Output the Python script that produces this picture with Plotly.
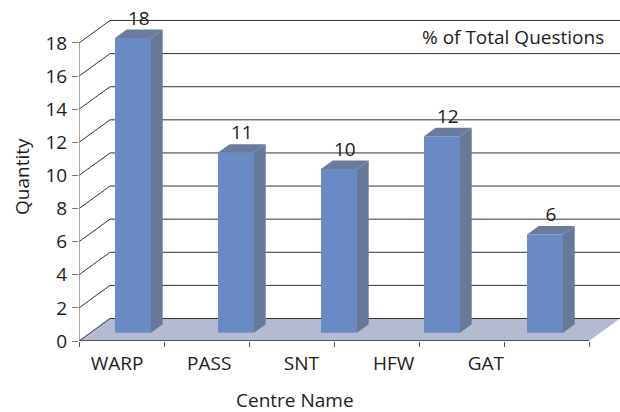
import plotly.graph_objects as go

# ---------------- data ----------------
categories = ["WARP", "PASS", "SNT", "HFW", "GAT"]
values = [18, 11, 10, 12, 6]
y_ticks = [0, 2, 4, 6, 8, 10, 12, 14, 16, 18]
series_name = "% of Total Questions"
x_title = "Centre Name"
y_title = "Quantity"

# ---------------- geometry (pixels of the 620x412 canvas) ----------------
W, H = 620, 412
PX_X0 = 133.0      # pixel of x = 0 (first bar front centre)
UX = 103.0         # px per category
PX_Y0 = 341.0      # pixel of y = 0 (front floor edge)
UY = 16.556        # px per value unit
LEFT_PX, RIGHT_PX, TOP_PX = 79.0, 620.0, 5.0
FRONT_RIGHT_PX = 589.0

x_min = (LEFT_PX - PX_X0) / UX
x_max = (RIGHT_PX - PX_X0) / UX
y_max = (PX_Y0 - TOP_PX) / UY
front_left = x_min
front_right = (FRONT_RIGHT_PX - PX_X0) / UX
DEPTH_X = 31.0 / UX
DEPTH_Y = 22.5 / UY

BAR_W = 36.0 / UX
SIDE_X = 11.7 / UX
SIDE_Y = 8.4 / UY
BAR_BASE = 0.505
PERSP = 0.989

FONT = "Open Sans"
FS = 19
TXT = "#1c1c1c"
FRONT_C = "#6a8ac6"
SIDE_C = "#687899"
TOP_C = "#6b7b9d"
FLOOR_C = "#b4bad0"
GRID_C = "#333333"

xs = list(range(len(categories)))
tops = [BAR_BASE + v * PERSP for v in values]

fig = go.Figure()

# front faces
fig.add_trace(go.Bar(x=xs, y=[v * PERSP for v in values], base=BAR_BASE, width=BAR_W,
                     marker=dict(color=FRONT_C, line=dict(width=0)),
                     name=series_name, showlegend=False, hoverinfo="skip"))

# side faces
sx, sy = [], []
for x, t in zip(xs, tops):
    r = x + BAR_W / 2
    sx += [r, r, r + SIDE_X, r + SIDE_X, r, None]
    sy += [BAR_BASE, t, t + SIDE_Y, BAR_BASE + SIDE_Y, BAR_BASE, None]
fig.add_trace(go.Scatter(x=sx, y=sy, mode="lines", fill="toself", fillcolor=SIDE_C,
                         line=dict(width=0, color=SIDE_C), showlegend=False, hoverinfo="skip"))

# top faces
tx, ty = [], []
for x, t in zip(xs, tops):
    l, r = x - BAR_W / 2, x + BAR_W / 2
    tx += [l, r, r + SIDE_X, l + SIDE_X, l, None]
    ty += [t, t, t + SIDE_Y, t + SIDE_Y, t, None]
fig.add_trace(go.Scatter(x=tx, y=ty, mode="lines", fill="toself", fillcolor=TOP_C,
                         line=dict(width=0, color=TOP_C), showlegend=False, hoverinfo="skip"))

# data labels
fig.add_trace(go.Scatter(x=[x + SIDE_X / 2 for x in xs], y=[t + SIDE_Y for t in tops],
                         mode="text", text=[str(v) for v in values], textposition="top center",
                         textfont=dict(family=FONT, size=FS, color=TXT),
                         showlegend=False, hoverinfo="skip"))

shapes = []
# floor
shapes.append(dict(type="path", xref="x", yref="y", layer="below", line=dict(width=0),
                   fillcolor=FLOOR_C,
                   path=f"M{front_left},0 L{front_right},0 L{front_right + DEPTH_X},{DEPTH_Y} "
                        f"L{front_left + DEPTH_X},{DEPTH_Y} Z"))
# back wall grid + side wall diagonals
for t in y_ticks:
    shapes.append(dict(type="line", xref="x", yref="y", layer="below",
                       x0=front_left + DEPTH_X, x1=x_max, y0=t + DEPTH_Y, y1=t + DEPTH_Y,
                       line=dict(color=GRID_C, width=1)))
    shapes.append(dict(type="line", xref="x", yref="y", layer="below",
                       x0=front_left, x1=front_left + DEPTH_X, y0=t, y1=t + DEPTH_Y,
                       line=dict(color=GRID_C, width=1)))
# axis lines
shapes.append(dict(type="line", xref="x", yref="y", x0=front_left, x1=front_right, y0=0, y1=0,
                   line=dict(color=GRID_C, width=1.3)))
shapes.append(dict(type="line", xref="x", yref="y", x0=front_left, x1=front_left, y0=0, y1=max(y_ticks),
                   line=dict(color="#7a7a7a", width=1.3)))

plot_w = RIGHT_PX - LEFT_PX
plot_h = PX_Y0 - TOP_PX


def px_to_paper(px, py):
    return (px - LEFT_PX) / plot_w, (PX_Y0 - py) / plot_h


ann = []
lx, ly = px_to_paper(606, 37)
ann.append(dict(text=series_name, xref="paper", yref="paper", x=lx, y=ly, xanchor="right",
                yanchor="middle", showarrow=False, font=dict(family=FONT, size=FS, color=TXT)))
qx, qy = px_to_paper(22, 177)
ann.append(dict(text=y_title, xref="paper", yref="paper", x=qx, y=qy, xanchor="center",
                yanchor="middle", textangle=-90, showarrow=False,
                font=dict(family=FONT, size=FS, color=TXT)))
cx, cy = px_to_paper(295, 400)
ann.append(dict(text=x_title, xref="paper", yref="paper", x=cx, y=cy, xanchor="center",
                yanchor="middle", showarrow=False, font=dict(family=FONT, size=FS, color=TXT)))

label_pos = [(-16.0 + 92.2 * i) / UX for i in range(len(categories))]
minor_ticks = [front_left + k * (front_right - front_left) / 6 for k in range(7)]

fig.update_layout(
    width=W, height=H,
    margin=dict(l=LEFT_PX, r=W - RIGHT_PX, t=TOP_PX, b=H - PX_Y0, pad=0),
    paper_bgcolor="white", plot_bgcolor="white",
    shapes=shapes, annotations=ann, showlegend=False,
    font=dict(family=FONT, size=FS, color=TXT),
    xaxis=dict(range=[x_min, x_max], showgrid=False, zeroline=False, showline=False,
               tickvals=label_pos, ticktext=categories, ticks="", ticklen=0,
               ticklabelstandoff=9,
               tickfont=dict(family=FONT, size=FS, color=TXT),
               minor=dict(tickvals=minor_ticks, ticks="outside", ticklen=5,
                          tickcolor="#555555", tickwidth=1.3, showgrid=False)),
    yaxis=dict(range=[0, y_max], showgrid=False, zeroline=False, showline=False,
               tickvals=y_ticks, ticks="outside", ticklen=6, tickcolor="#777777", tickwidth=1.3,
               ticklabelstandoff=1,
               tickfont=dict(family=FONT, size=FS, color=TXT)),
)

fig.write_html("out.html", config={"displayModeBar": False},
               post_script="document.body.style.margin='0px';document.body.style.padding='0px';")
